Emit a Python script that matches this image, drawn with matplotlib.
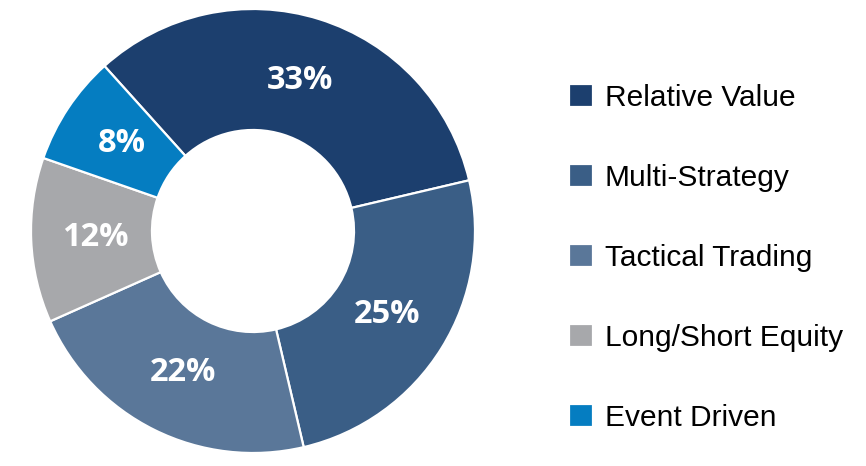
import matplotlib.pyplot as plt
from matplotlib.font_manager import fontManager

# data
labels = ['Relative Value', 'Multi-Strategy', 'Tactical Trading',
          'Long/Short Equity', 'Event Driven']
shares = [33, 25, 22, 12, 8]
colors = ['#1c3f6e', '#3a5e86', '#5a7799', '#a7a8ab', '#057dc1']

names = {f.name for f in fontManager.ttflist}
legend_font = 'Liberation Sans Narrow' if 'Liberation Sans Narrow' in names else 'Liberation Sans'

fig = plt.figure(figsize=(8.66, 4.66), dpi=100)
ax = fig.add_axes([31 / 866, 13 / 466, 444 / 866, 444 / 466])

wedges, texts, autotexts = ax.pie(
    shares, colors=colors, startangle=132, counterclock=False,
    radius=1.0, wedgeprops=dict(width=0.545, edgecolor='white', linewidth=1.6),
    autopct='%d%%', pctdistance=0.71,
    textprops=dict(color='white', fontsize=23.5, fontweight='bold', family='Open Sans'))

ax.set_xlim(-1, 1)
ax.set_ylim(-1, 1)
ax.set_aspect('equal')
ax.axis('off')

fig.legend(wedges, labels, loc='upper left', bbox_to_anchor=(557 / 866, 1 - 72 / 466),
           frameon=False, prop=dict(family=legend_font, size=21.5),
           handlelength=0.8, handleheight=0.8, handletextpad=0.4,
           labelspacing=1.74, borderaxespad=0)

fig.savefig('out.png', dpi=100)
